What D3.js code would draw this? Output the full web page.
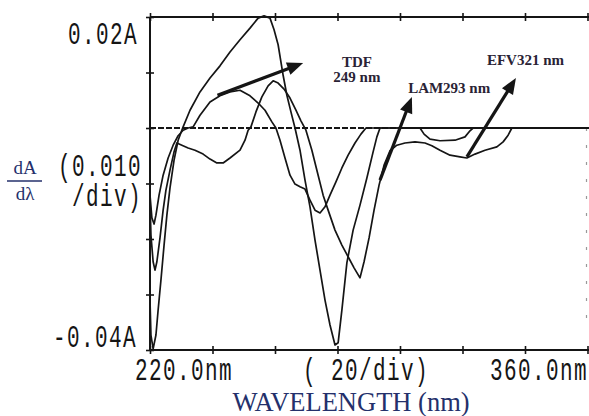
<!DOCTYPE html>
<html>
<head>
<meta charset="utf-8">
<script src="https://cdn.jsdelivr.net/npm/d3@7"></script>
<style>
  body { margin: 0; background: #fff; }
  svg { display: block; }
</style>
</head>
<body>
<div id="chart"></div>
<script>
// first derivative spectra (wavelength nm / dA/dλ in A)
var tallWl  = [220.0, 220.3, 221.0, 221.9, 222.6, 223.5, 224.5, 225.4, 226.4, 227.7, 229.0, 230.6, 232.8, 236.0, 239.2, 242.4, 245.6, 248.8, 252.0, 254.6, 256.5, 258.4, 259.7, 261.0, 262.6, 263.8, 265.1, 266.4, 268.0, 269.6, 271.2, 272.8, 274.4, 276.0, 277.6, 279.2, 280.2, 281.4, 283.0, 285.0, 287.2, 289.4, 291.4, 292.6, 293.6, 306.4, 307.7, 309.6, 312.8, 317.6, 320.8, 322.4, 323.4, 360.0];
var tallVal = [-0.0310, -0.0373, -0.0398, -0.0373, -0.0328, -0.0274, -0.0211, -0.0157, -0.0108, -0.0058, -0.0022, 0.0002, 0.0032, 0.0065, 0.0090, 0.0112, 0.0137, 0.0159, 0.0180, 0.0198, 0.0202, 0.0198, 0.0177, 0.0150, 0.0095, 0.0059, 0.0029, 0.0000, -0.0040, -0.0094, -0.0142, -0.0202, -0.0256, -0.0310, -0.0355, -0.0391, -0.0387, -0.0328, -0.0243, -0.0184, -0.0139, -0.0090, -0.0043, -0.0016, 0.0000, 0.0000, -0.0011, -0.0020, -0.0023, -0.0022, -0.0016, -0.0005, 0.0000, 0.0000];

var humpWl  = [220.0, 220.6, 221.3, 221.9, 222.9, 224.2, 225.8, 227.4, 229.0, 230.6, 232.2, 233.8, 236.0, 239.2, 242.4, 245.6, 248.8, 252.0, 254.6, 256.8, 259.0, 260.3, 261.6, 263.2, 264.8, 266.4, 268.0, 269.6, 271.2, 272.8, 274.4, 276.0, 277.6, 279.5, 281.4, 283.4, 285.6, 287.5, 289.1, 360.0];
var humpVal = [-0.0121, -0.0162, -0.0173, -0.0157, -0.0121, -0.0085, -0.0054, -0.0031, -0.0014, -0.0004, 0.0000, 0.0002, 0.0023, 0.0047, 0.0058, 0.0065, 0.0068, 0.0058, 0.0045, 0.0032, 0.0011, 0.0000, -0.0022, -0.0054, -0.0085, -0.0101, -0.0106, -0.0110, -0.0130, -0.0148, -0.0153, -0.0142, -0.0121, -0.0097, -0.0072, -0.0049, -0.0027, -0.0011, 0.0000, 0.0000];

var thirdWl  = [220.0, 220.3, 221.0, 221.6, 222.2, 223.2, 224.2, 225.1, 226.4, 227.7, 228.6, 230.2, 232.2, 234.4, 237.0, 239.2, 241.4, 243.4, 245.6, 248.8, 250.4, 251.4, 252.3, 253.9, 255.8, 257.8, 259.4, 261.0, 262.9, 264.8, 266.7, 268.3, 269.9, 271.8, 273.8, 275.4, 277.0, 279.2, 281.4, 283.4, 285.3, 287.2, 288.5, 290.1, 291.7, 293.3, 294.9, 296.8, 299.0, 301.6, 304.8, 308.0, 310.2, 312.8, 316.0, 319.2, 321.4, 324.0, 327.2, 331.0, 333.0, 334.6, 335.8, 360.0];
var thirdVal = [-0.0130, -0.0193, -0.0241, -0.0256, -0.0241, -0.0198, -0.0148, -0.0112, -0.0076, -0.0043, -0.0027, -0.0031, -0.0036, -0.0040, -0.0047, -0.0056, -0.0063, -0.0063, -0.0054, -0.0040, -0.0022, -0.0004, 0.0002, 0.0029, 0.0056, 0.0076, 0.0085, 0.0081, 0.0070, 0.0054, 0.0032, 0.0013, -0.0004, -0.0040, -0.0085, -0.0121, -0.0148, -0.0184, -0.0211, -0.0232, -0.0252, -0.0270, -0.0241, -0.0198, -0.0148, -0.0103, -0.0067, -0.0041, -0.0031, -0.0027, -0.0025, -0.0027, -0.0032, -0.0040, -0.0049, -0.0052, -0.0054, -0.0047, -0.0040, -0.0034, -0.0025, -0.0013, 0.0000, 0.0000];

var xTicks = [220, 240, 260, 280, 300, 320, 340, 360];
var yTicks = [-0.04, -0.03, -0.02, -0.01, 0, 0.01, 0.02];

// arrows pointing at the measuring wavelengths
var arrowLabels = ["TDF", "LAM", "EFV"];
var arrowFrom = [[241.6, 0.0059], [293.6, -0.0094], [321.4, -0.0052]];
var arrowTo   = [[269.0, 0.0117], [303.8, 0.0056], [337.1, 0.0090]];

var W = 589, H = 416;
var ink = "#151515", navy = "#24306b", note = "#2a2335";

var x = d3.scaleLinear().domain([220, 360]).range([150, 587.5]);
var y = d3.scaleLinear().domain([-0.04, 0.02]).range([350, 17]);

var svg = d3.select("#chart").append("svg")
  .attr("width", W).attr("height", H);

// frame: top, bottom, left, faint right
svg.append("line").attr("x1", x(220)).attr("x2", W).attr("y1", y(0.02)).attr("y2", y(0.02))
  .attr("stroke", ink).attr("stroke-width", 2);
svg.append("line").attr("x1", x(220)).attr("x2", W).attr("y1", y(-0.04)).attr("y2", y(-0.04))
  .attr("stroke", ink).attr("stroke-width", 2);
svg.append("line").attr("x1", x(220)).attr("x2", x(220)).attr("y1", y(0.02)).attr("y2", y(-0.04))
  .attr("stroke", ink).attr("stroke-width", 2);
svg.append("line").attr("x1", x(360) - 1).attr("x2", x(360) - 1).attr("y1", y(0.0)).attr("y2", y(-0.035))
  .attr("stroke", "#999").attr("stroke-width", 1.2).attr("stroke-dasharray", "3,14");

// ticks crossing the axes
var bottomAxis = svg.append("g").attr("transform", "translate(0," + y(-0.04) + ")")
  .call(d3.axisBottom(x).tickValues(xTicks).tickSize(8).tickFormat(""));
var topAxis = svg.append("g").attr("transform", "translate(0," + y(0.02) + ")")
  .call(d3.axisTop(x).tickValues(xTicks).tickSize(8).tickFormat(""));
var leftAxis = svg.append("g").attr("transform", "translate(" + x(220) + ",0)")
  .call(d3.axisLeft(y).tickValues(yTicks).tickSize(8).tickFormat(""));
[bottomAxis, topAxis].forEach(function (g) {
  g.select(".domain").remove();
  g.selectAll(".tick line").attr("y1", -4).attr("y2", 4).attr("stroke", ink).attr("stroke-width", 1.6);
});
leftAxis.select(".domain").remove();
leftAxis.selectAll(".tick line").attr("x1", -4).attr("x2", 4).attr("stroke", ink).attr("stroke-width", 1.6);

// zero line, dotted on the left part
svg.append("line").attr("x1", x(220)).attr("x2", x(300)).attr("y1", y(0)).attr("y2", y(0))
  .attr("stroke", ink).attr("stroke-width", 2).attr("stroke-dasharray", "6,2");
svg.append("line").attr("x1", x(300)).attr("x2", W).attr("y1", y(0)).attr("y2", y(0))
  .attr("stroke", ink).attr("stroke-width", 1.8);

// spectra
var line = d3.line().x(function (d) { return x(d[0]); }).y(function (d) { return y(d[1]); });
[[tallWl, tallVal], [humpWl, humpVal], [thirdWl, thirdVal]].forEach(function (s) {
  svg.append("path")
    .datum(d3.zip(s[0], s[1]))
    .attr("d", line)
    .attr("fill", "none")
    .attr("stroke", ink)
    .attr("stroke-width", 1.7)
    .attr("stroke-linejoin", "round");
});

// arrows
arrowLabels.forEach(function (name, i) {
  var x0 = x(arrowFrom[i][0]), y0 = y(arrowFrom[i][1]);
  var x1 = x(arrowTo[i][0]), y1 = y(arrowTo[i][1]);
  var a = Math.atan2(y1 - y0, x1 - x0);
  var len = 16, half = 6.5;
  var bx = x1 - len * Math.cos(a), by = y1 - len * Math.sin(a);
  svg.append("line").attr("x1", x0).attr("y1", y0).attr("x2", bx + 2 * Math.cos(a)).attr("y2", by + 2 * Math.sin(a))
    .attr("stroke", ink).attr("stroke-width", 3.2);
  var pts = [[x1, y1],
    [bx + half * Math.sin(a), by - half * Math.cos(a)],
    [bx - half * Math.sin(a), by + half * Math.cos(a)]];
  svg.append("polygon").attr("points", pts.map(function (p) { return p.join(","); }).join(" "))
    .attr("fill", ink);
});

// annotation text
function noteText(t, wl, v, anchor) {
  svg.append("text").attr("x", x(wl)).attr("y", y(v))
    .attr("text-anchor", anchor || "start")
    .attr("font-family", "Liberation Serif, Times New Roman, serif")
    .attr("font-weight", "bold").attr("font-size", 15).attr("fill", note)
    .text(t);
}
noteText("TDF", 286.2, 0.0110, "middle");
noteText("249 nm", 286.2, 0.0083, "middle");
noteText("LAM293 nm", 302.6, 0.0063);
noteText("EFV321 nm", 327.8, 0.0114);

// dot-matrix style labels of the recorder (tall, narrow glyphs)
function mono(lines, px, py) {
  var t = svg.append("g").attr("transform", "translate(" + px + "," + py + ") scale(1,1.5)")
    .append("text")
    .attr("font-family", "Liberation Mono, monospace")
    .attr("font-size", 21).attr("letter-spacing", 1.4).attr("fill", ink)
    .attr("xml:space", "preserve");
  lines.forEach(function (s, i) {
    t.append("tspan").attr("x", 0).attr("y", i * 20).text(s);
  });
}
mono(["0.02A"], 68, 44);
mono(["(0.010", " /div)"], 58, 176);
mono(["-0.04A"], 53, 347);
mono(["220.0nm"], 135, 380);
mono(["( 20/div)"], 303, 380);
mono(["360.0nm"], 490, 380);

// dA/dλ fraction
svg.append("text").attr("x", 25).attr("y", 174).attr("text-anchor", "middle")
  .attr("font-family", "Liberation Serif, serif").attr("font-size", 19).attr("fill", navy).text("dA");
svg.append("line").attr("x1", 7).attr("x2", 42).attr("y1", 181).attr("y2", 181)
  .attr("stroke", navy).attr("stroke-width", 1.5);
svg.append("text").attr("x", 25).attr("y", 200).attr("text-anchor", "middle")
  .attr("font-family", "Liberation Serif, serif").attr("font-size", 19).attr("fill", navy).text("dλ");

svg.append("text").attr("x", 351).attr("y", 411).attr("text-anchor", "middle")
  .attr("font-family", "Liberation Serif, Times New Roman, serif")
  .attr("font-size", 26.5).attr("fill", navy)
  .text("WAVELENGTH (nm)");
</script>
</body>
</html>
